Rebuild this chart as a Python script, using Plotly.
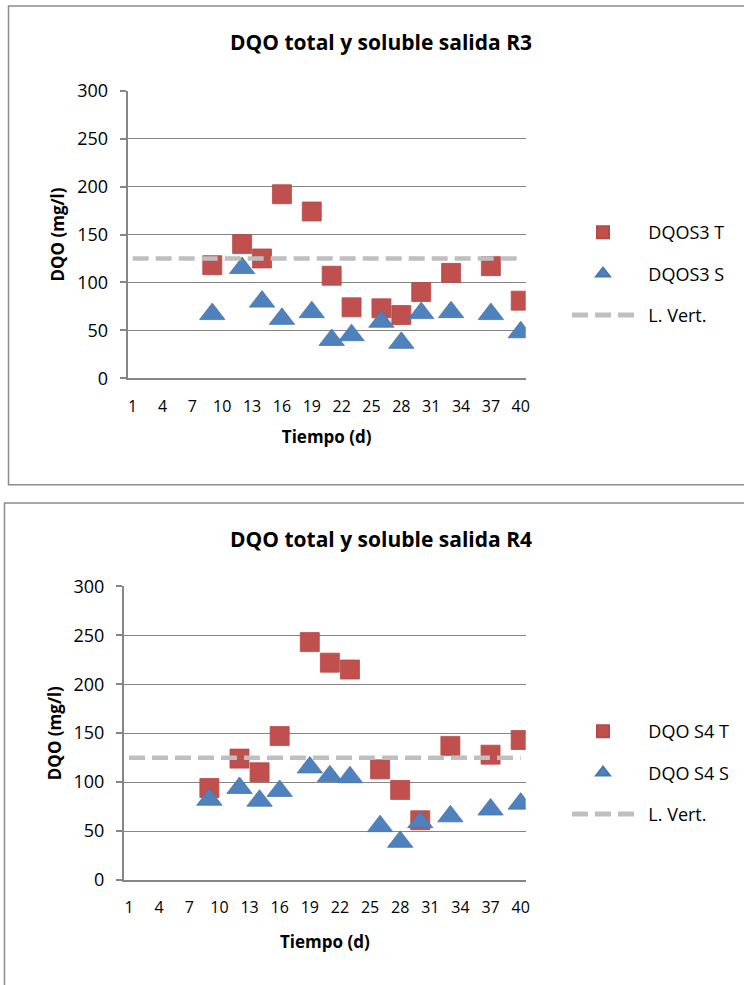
import plotly.graph_objects as go

# ---- data ----
days = [9, 12, 14, 16, 19, 21, 23, 26, 28, 30, 33, 37, 40]
r3_total = [118, 140, 125, 192, 174, 107, 74, 73, 66, 90, 110, 117, 81]
r3_soluble = [67, 115, 80, 62, 69, 40, 45, 59, 37, 68, 69, 67, 48]
r4_total = [94, 124, 110, 147, 243, 222, 215, 113, 92, 61, 137, 128, 143]
r4_soluble = [82, 94, 81, 91, 115, 106, 105, 55, 39, 59, 65, 72, 78]
limit_days = [1, 40]
limit_value = [125, 125]
x_ticks = list(range(1, 41, 3))
y_ticks = [0, 50, 100, 150, 200, 250, 300]

W, H = 744, 985
RED = "#C0504D"
BLUE = "#4F81BD"
GRAY = "#BFBFBF"
AX = "#868686"
FONT = "Open Sans"
NB = "\u00a0\u00a0"


def px(x):
    return x / W


def py(y):
    return 1 - y / H


fig = go.Figure()

charts = [
    dict(xa="x", ya="y", leg="legend", total=r3_total, sol=r3_soluble,
         names=("DQOS3 T", "DQOS3 S")),
    dict(xa="x2", ya="y2", leg="legend2", total=r4_total, sol=r4_soluble,
         names=("DQO S4 T", "DQO S4 S")),
]

for i, c in enumerate(charts):
    fig.add_trace(go.Scatter(
        x=days, y=c["total"], mode="markers", name=NB + c["names"][0],
        xaxis=c["xa"], yaxis=c["ya"], legend=c["leg"], legendgroup=f"a{i}",
        marker=dict(symbol="square", size=19, color=RED,
                    line=dict(width=0.8, color="#B24A47")),
    ))
    fig.add_trace(go.Scatter(
        x=days, y=c["sol"], mode="markers", name=NB + c["names"][1],
        xaxis=c["xa"], yaxis=c["ya"], legend=c["leg"], legendgroup=f"b{i}",
        marker=dict(symbol="triangle-up", size=22, color=BLUE,
                    line=dict(width=0.8, color="#4677B0")),
    ))
    fig.add_trace(go.Scatter(
        x=limit_days, y=limit_value, mode="lines", name=NB + "L. Vert.",
        xaxis=c["xa"], yaxis=c["ya"], legend=c["leg"], legendgroup=f"c{i}",
        line=dict(color=GRAY, width=4.5, dash="16px,7px"),
    ))

common_x = dict(range=[0.5, 40.5], tickmode="array", tickvals=x_ticks,
                showgrid=False, showline=True, linecolor=AX, linewidth=2,
                ticks="", zeroline=False, fixedrange=True, automargin=False,
                tickfont=dict(family=FONT, size=16, color="black"),
                ticklabelstandoff=12)
common_y = dict(range=[0, 300], tickmode="array", tickvals=y_ticks,
                showgrid=True, gridcolor=AX, gridwidth=1.3,
                showline=True, linecolor=AX, linewidth=2,
                ticks="outside", ticklen=6, tickcolor=AX, tickwidth=1.5,
                zeroline=False, fixedrange=True, automargin=False,
                tickfont=dict(family=FONT, size=18, color="black"),
                ticklabelstandoff=8,
                title=dict(text="<b>DQO (mg/l)</b>", standoff=8,
                           font=dict(family=FONT, size=17, color="black")))

xtitle_font = dict(family=FONT, size=17, color="black")

leg_common = dict(xanchor="left", yanchor="top", itemwidth=62,
                  itemsizing="constant", traceorder="grouped",
                  tracegroupgap=15, bgcolor="rgba(0,0,0,0)",
                  font=dict(family=FONT, size=18, color="black"))

fig.update_layout(
    width=W, height=H,
    margin=dict(l=0, r=0, t=0, b=0, autoexpand=False),
    paper_bgcolor="white", plot_bgcolor="white",
    font=dict(family=FONT, color="black"),
    xaxis=dict(common_x, domain=[px(127.7), px(525.7)], anchor="y",
               title=dict(text="<b>Tiempo (d)</b>", standoff=16, font=xtitle_font)),
    yaxis=dict(common_y, domain=[py(378.3), py(90.7)], anchor="x"),
    xaxis2=dict(common_x, domain=[px(124), px(525.7)], anchor="y2",
                title=dict(text="<b>Tiempo (d)</b>", standoff=19, font=xtitle_font)),
    yaxis2=dict(common_y, domain=[py(880), py(586.3)], anchor="x2"),
    legend=dict(leg_common, x=px(567), y=py(214)),
    legend2=dict(leg_common, x=px(567), y=py(713)),
    showlegend=True,
)

# chart titles
for y, txt in [(42, "DQO total y soluble salida R3"), (539, "DQO total y soluble salida R4")]:
    fig.add_annotation(x=px(380.8), y=py(y), xref="paper", yref="paper",
                       text=f"<b>{txt}</b>", showarrow=False,
                       xanchor="center", yanchor="middle",
                       font=dict(family=FONT, size=21, color="black"))

# chart frames
fig.add_shape(type="rect", xref="paper", yref="paper",
              x0=px(8.5), x1=px(760), y0=py(484.7), y1=py(6),
              line=dict(color="#8C8C8C", width=1.5), layer="below")
fig.add_shape(type="rect", xref="paper", yref="paper",
              x0=px(4.5), x1=px(760), y0=py(1000), y1=py(503),
              line=dict(color="#8C8C8C", width=1.5), layer="below")

fig.write_html("out.html")
